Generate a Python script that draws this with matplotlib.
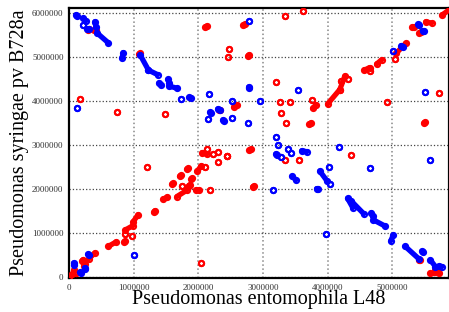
import numpy as np
import matplotlib
matplotlib.use("Agg")
import matplotlib.pyplot as plt

# matches as segments (x1, y1, x2, y2) in Mb; identical ends = single hit
fwd_x1 = [0.00, 0.07, 0.10, 0.11, 0.20, 0.23, 0.31, 0.61, 0.85, 0.87, 0.98, 0.87, 0.99, 1.31, 1.46,
          1.21, 1.59, 1.71, 1.67, 1.75, 1.82, 1.85, 1.89, 1.96, 1.98, 2.11, 2.18, 2.04, 2.06, 2.14,
          2.23, 2.30, 2.31, 2.45, 2.44, 2.79, 2.84, 3.34, 3.56, 4.36, 2.55, 1.49, 0.75, 0.17, 3.28,
          3.36, 3.72, 3.27, 3.42, 3.76, 3.77, 4.00, 4.19, 4.21, 4.31, 3.20, 2.46, 2.48, 2.77, 2.11,
          2.70, 3.34, 3.62, 4.57, 4.66, 4.76, 4.92, 5.04, 5.06, 5.31, 5.42, 5.52, 5.77, 5.72, 5.49,
          5.58, 5.69, 5.67, 5.42, 1.08, 0.29, 0.39, 2.32]
fwd_y1 = [0.00, 0.16, 0.12, 0.09, 0.37, 0.26, 0.42, 0.70, 0.80, 0.99, 0.94, 1.07, 1.25, 1.47, 1.77,
          2.49, 2.11, 2.29, 1.83, 2.08, 2.45, 2.08, 2.22, 1.98, 2.40, 2.49, 1.97, 0.33, 2.83, 2.91,
          2.79, 2.85, 2.62, 2.74, 2.76, 2.88, 2.05, 2.66, 2.67, 2.77, 3.87, 3.71, 3.74, 4.04, 3.72,
          3.49, 3.48, 3.98, 3.98, 4.02, 3.83, 3.93, 4.26, 4.45, 4.49, 4.44, 5.01, 5.18, 5.03, 5.68,
          5.72, 5.94, 6.05, 4.70, 4.68, 4.84, 3.98, 4.96, 5.08, 5.67, 5.55, 5.80, 5.95, 4.19, 3.50,
          0.09, 0.20, 0.16, 0.39, 5.06, 5.62, 5.62, 3.79]
fwd_x2 = [0.04, 0.07, 0.10, 0.11, 0.22, 0.25, 0.40, 0.73, 0.87, 0.87, 0.98, 0.99, 1.07, 1.33, 1.52,
          1.21, 1.61, 1.73, 1.82, 1.75, 1.84, 1.87, 1.91, 2.01, 2.05, 2.11, 2.18, 2.04, 2.13, 2.14,
          2.23, 2.30, 2.31, 2.45, 2.44, 2.81, 2.86, 3.34, 3.56, 4.36, 2.60, 1.49, 0.75, 0.17, 3.28,
          3.36, 3.74, 3.27, 3.42, 3.76, 3.82, 4.19, 4.27, 4.21, 4.31, 3.20, 2.46, 2.48, 2.79, 2.13,
          2.72, 3.34, 3.62, 4.65, 4.66, 4.84, 4.92, 5.04, 5.21, 5.34, 5.44, 5.61, 5.90, 5.72, 5.51,
          5.73, 5.71, 5.68, 5.43, 1.10, 0.31, 0.41, 2.34]
fwd_y2 = [0.06, 0.16, 0.12, 0.09, 0.40, 0.29, 0.55, 0.80, 0.82, 0.99, 0.94, 1.17, 1.42, 1.51, 1.82,
          2.49, 2.13, 2.31, 1.97, 2.08, 2.47, 2.10, 2.24, 1.97, 2.53, 2.49, 1.97, 0.33, 2.79, 2.91,
          2.79, 2.85, 2.62, 2.74, 2.76, 2.90, 2.07, 2.66, 2.67, 2.77, 3.90, 3.71, 3.74, 4.04, 3.72,
          3.49, 3.50, 3.98, 3.98, 4.02, 3.91, 4.26, 4.57, 4.45, 4.49, 4.44, 5.01, 5.18, 5.05, 5.70,
          5.74, 5.94, 6.05, 4.76, 4.68, 4.94, 3.98, 4.96, 5.31, 5.69, 5.57, 5.77, 6.09, 4.19, 3.52,
          0.09, 0.21, 0.18, 0.40, 5.08, 5.63, 5.62, 3.80]

rev_x1 = [0.11, 0.22, 0.22, 0.40, 0.28, 0.43, 0.84, 1.10, 1.23, 1.39, 1.53, 1.55, 1.73, 1.86, 2.16,
          0.12, 2.18, 2.15, 2.30, 2.38, 2.52, 2.77, 2.52, 2.78, 2.95, 3.54, 2.79, 3.21, 3.24, 3.20,
          3.28, 3.39, 3.44, 3.60, 3.45, 3.16, 3.88, 4.04, 4.02, 3.83, 4.18, 4.31, 4.36, 4.66, 5.59,
          5.51, 4.68, 4.71, 5.02, 3.97, 5.20, 5.46, 5.59, 5.72, 5.01, 5.14, 5.40, 5.47, 0.29, 0.07,
          0.17, 0.24, 1.01]
rev_y1 = [5.96, 5.88, 5.73, 5.80, 5.64, 5.55, 5.10, 5.05, 4.70, 4.41, 4.49, 4.34, 4.04, 4.08, 4.15,
          3.85, 3.75, 3.60, 3.82, 3.57, 3.61, 3.50, 3.99, 4.32, 4.01, 4.25, 5.82, 3.19, 3.00, 2.80,
          2.72, 2.91, 2.83, 2.87, 2.29, 1.97, 2.41, 2.12, 2.49, 2.01, 2.95, 1.79, 1.74, 2.48, 2.66,
          4.20, 1.46, 1.30, 0.96, 0.99, 0.70, 0.59, 0.39, 0.25, 5.13, 5.26, 5.74, 5.60, 0.52, 0.32,
          0.11, 0.21, 0.51]
rev_x2 = [0.13, 0.26, 0.22, 0.42, 0.31, 0.61, 0.82, 1.23, 1.37, 1.42, 1.55, 1.67, 1.73, 1.88, 2.16,
          0.12, 2.19, 2.15, 2.33, 2.40, 2.52, 2.77, 2.52, 2.79, 2.95, 3.54, 2.79, 3.21, 3.24, 3.22,
          3.28, 3.39, 3.44, 3.68, 3.51, 3.16, 3.99, 4.04, 4.02, 3.85, 4.18, 4.39, 4.56, 4.66, 5.59,
          5.51, 4.70, 4.89, 4.98, 3.97, 5.41, 5.47, 5.67, 5.77, 5.01, 5.17, 5.41, 5.49, 0.31, 0.08,
          0.19, 0.25, 1.01]
rev_y2 = [5.94, 5.82, 5.73, 5.67, 5.63, 5.32, 4.98, 4.70, 4.60, 4.36, 4.42, 4.29, 4.04, 4.06, 4.15,
          3.85, 3.73, 3.60, 3.80, 3.55, 3.61, 3.50, 3.99, 4.30, 4.01, 4.25, 5.82, 3.19, 3.00, 2.78,
          2.72, 2.91, 2.83, 2.85, 2.21, 1.97, 2.19, 2.12, 2.49, 1.99, 2.95, 1.58, 1.44, 2.48, 2.66,
          4.20, 1.38, 1.16, 0.83, 0.99, 0.42, 0.57, 0.24, 0.24, 5.13, 5.23, 5.72, 5.58, 0.50, 0.28,
          0.09, 0.18, 0.51]

x_ticks = [0, 1000000, 2000000, 3000000, 4000000, 5000000]
y_ticks = [0, 1000000, 2000000, 3000000, 4000000, 5000000, 6000000]

plt.rcParams['font.family'] = ['Liberation Serif', 'DejaVu Serif']

fig = plt.figure(figsize=(4.49, 3.12), dpi=100)
ax = fig.add_axes([0.1537, 0.109, 0.8463, 0.865])

def draw(x1, y1, x2, y2, color):
    for a, b, c, d in zip(x1, y1, x2, y2):
        xs = np.array([a, c]) * 1e6
        ys = np.array([b, d]) * 1e6
        ax.plot(xs, ys, '-', color=color, lw=3.8, solid_capstyle='round', zorder=3)
        ax.plot(xs, ys, 'o', color=color, ms=3.7, mfc='none', mew=1.5, zorder=3)

draw(fwd_x1, fwd_y1, fwd_x2, fwd_y2, '#ff0000')
draw(rev_x1, rev_y1, rev_x2, rev_y2, '#0000ff')

ax.set_xlim(0, 5.88e6)
ax.set_ylim(-0.02e6, 6.11e6)
ax.set_xticks(x_ticks)
ax.set_yticks(y_ticks)
ax.set_xticklabels([str(t) for t in x_ticks])
ax.set_yticklabels([str(t) for t in y_ticks])
ax.tick_params(length=0, labelsize=6.5, labelcolor='#333333', pad=4)

ax.xaxis.grid(True, linestyle=':', color='#888888', lw=1.1)
ax.yaxis.grid(True, linestyle=':', color='#444444', lw=0.9)
ax.set_axisbelow(True)
for s in ax.spines.values():
    s.set_linewidth(1.6)
    s.set_color('black')

ax.set_xlabel('Pseudomonas entomophila L48', fontsize=14.5, labelpad=-1)
ax.set_ylabel('Pseudomonas syringae pv B728a', fontsize=14.5, labelpad=2)

fig.savefig('out.png', dpi=100)
